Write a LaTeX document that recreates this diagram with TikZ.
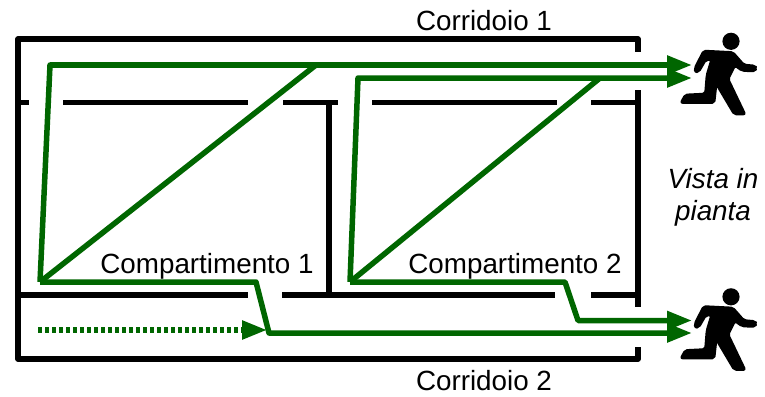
\documentclass[tikz,border=0pt]{standalone}
\usepackage{fontspec}
\setmainfont{Liberation Sans}
\usetikzlibrary{arrows.meta}
\definecolor{flowgreen}{HTML}{006600}
\tikzset{
  wall/.style={draw=black,line width=5.5pt,line join=round},
  flow/.style={draw=flowgreen,line width=5.5pt,line join=round},
  flowarrow/.style={flow,-{Triangle[length=25pt,width=18pt]}},
  dottedflow/.style={flowarrow,dash pattern=on 4pt off 3pt},
  label/.style={font=\fontsize{27.8pt}{32pt}\selectfont,inner sep=0pt,anchor=base},
  runner/.style={fill=black,draw=black,line width=1.6pt,line join=round,rounded corners=2pt},
}
\newcommand{\runnerfig}[2]{%
  \begin{scope}[shift={(#1,#2)}]
    \fill[black] (61,16.3) circle (8.6);
    \path[runner] (33.5,25.5) -- (63,27) -- (74,39.5) -- (85,40.5) -- (87,43) -- (85,46.5) -- (72,46) -- (65,41)
      -- (58.5,54) -- (75.5,89.5) -- (64,89.5) -- (46.5,60) -- (44.5,78) -- (10.5,78) -- (15,69.5) -- (35,68.5)
      -- (36.5,50) -- (41,35) -- (36,35) -- (29,47) -- (25,47.5) -- (24.5,43) -- cycle;
  \end{scope}}
\begin{document}
\begin{tikzpicture}[x=1pt,y=-1pt]
\useasboundingbox (0,0) rectangle (765,396);
% room corners and wall ends
\coordinate (rtt) at (638,52);
\coordinate (rtc) at (638,39);
\coordinate (ltc) at (18,39);
\coordinate (lbc) at (18,359);
\coordinate (rbc) at (638,359);
\coordinate (rbe) at (638,347);
\coordinate (rmt) at (638,90);
\coordinate (rmb) at (638,307);
% walls
\draw[wall] (rtt) -- (rtc) -- (ltc) -- (lbc) -- (rbc) -- (rbe);
\draw[wall] (rmt) -- (rmb);
\draw[wall] (18,102.5) -- (29,102.5);
\draw[wall] (63,102.5) -- (248,102.5);
\draw[wall] (283,102.5) -- (338,102.5);
\draw[wall] (372,102.5) -- (557,102.5);
\draw[wall] (591,102.5) -- (638,102.5);
\draw[wall] (18,295) -- (248,295);
\draw[wall] (282,295) -- (555,295);
\draw[wall] (591,295) -- (638,295);
\draw[wall] (329,102.5) -- (329,295);
% labels
\node[label] (c1) at (484,31) {Corridoio 1};
\node[label] (c2) at (484,390) {Corridoio 2};
\node[label] (k1) at (207,273.5) {Compartimento 1};
\node[label] (k2) at (515,273.5) {Compartimento 2};
\node[label] (v1) at (713,188) {\itshape Vista in};
\node[label] (v2) at (713,220) {\itshape pianta};
% flow points
\coordinate (a0) at (40,282);
\coordinate (a1) at (50,65);
\coordinate (a2) at (316,65);
\coordinate (a3) at (256,282);
\coordinate (a4) at (269,333);
\coordinate (b0) at (350,282);
\coordinate (b1) at (358,78);
\coordinate (b2) at (600,78);
\coordinate (b3) at (565,282);
\coordinate (b4) at (578,320.5);
\coordinate (e1) at (692,65);
\coordinate (e2) at (692,78);
\coordinate (e3) at (692,320.5);
\coordinate (e4) at (692,333);
\coordinate (d0) at (38,330);
\coordinate (d1) at (267,330);
% flows
\draw[flow] (a0) -- (a2);
\draw[flow] (b0) -- (b2);
\draw[flowarrow] (a0) -- (a1) -- (e1);
\draw[flowarrow] (b0) -- (b1) -- (e2);
\draw[flowarrow] (a0) -- (a3) -- (a4) -- (e4);
\draw[flowarrow] (b0) -- (b3) -- (b4) -- (e3);
\draw[dottedflow] (d0) -- (d1);
% runners
\runnerfig{670}{25}
\runnerfig{670}{280.5}
\end{tikzpicture}
\end{document}
